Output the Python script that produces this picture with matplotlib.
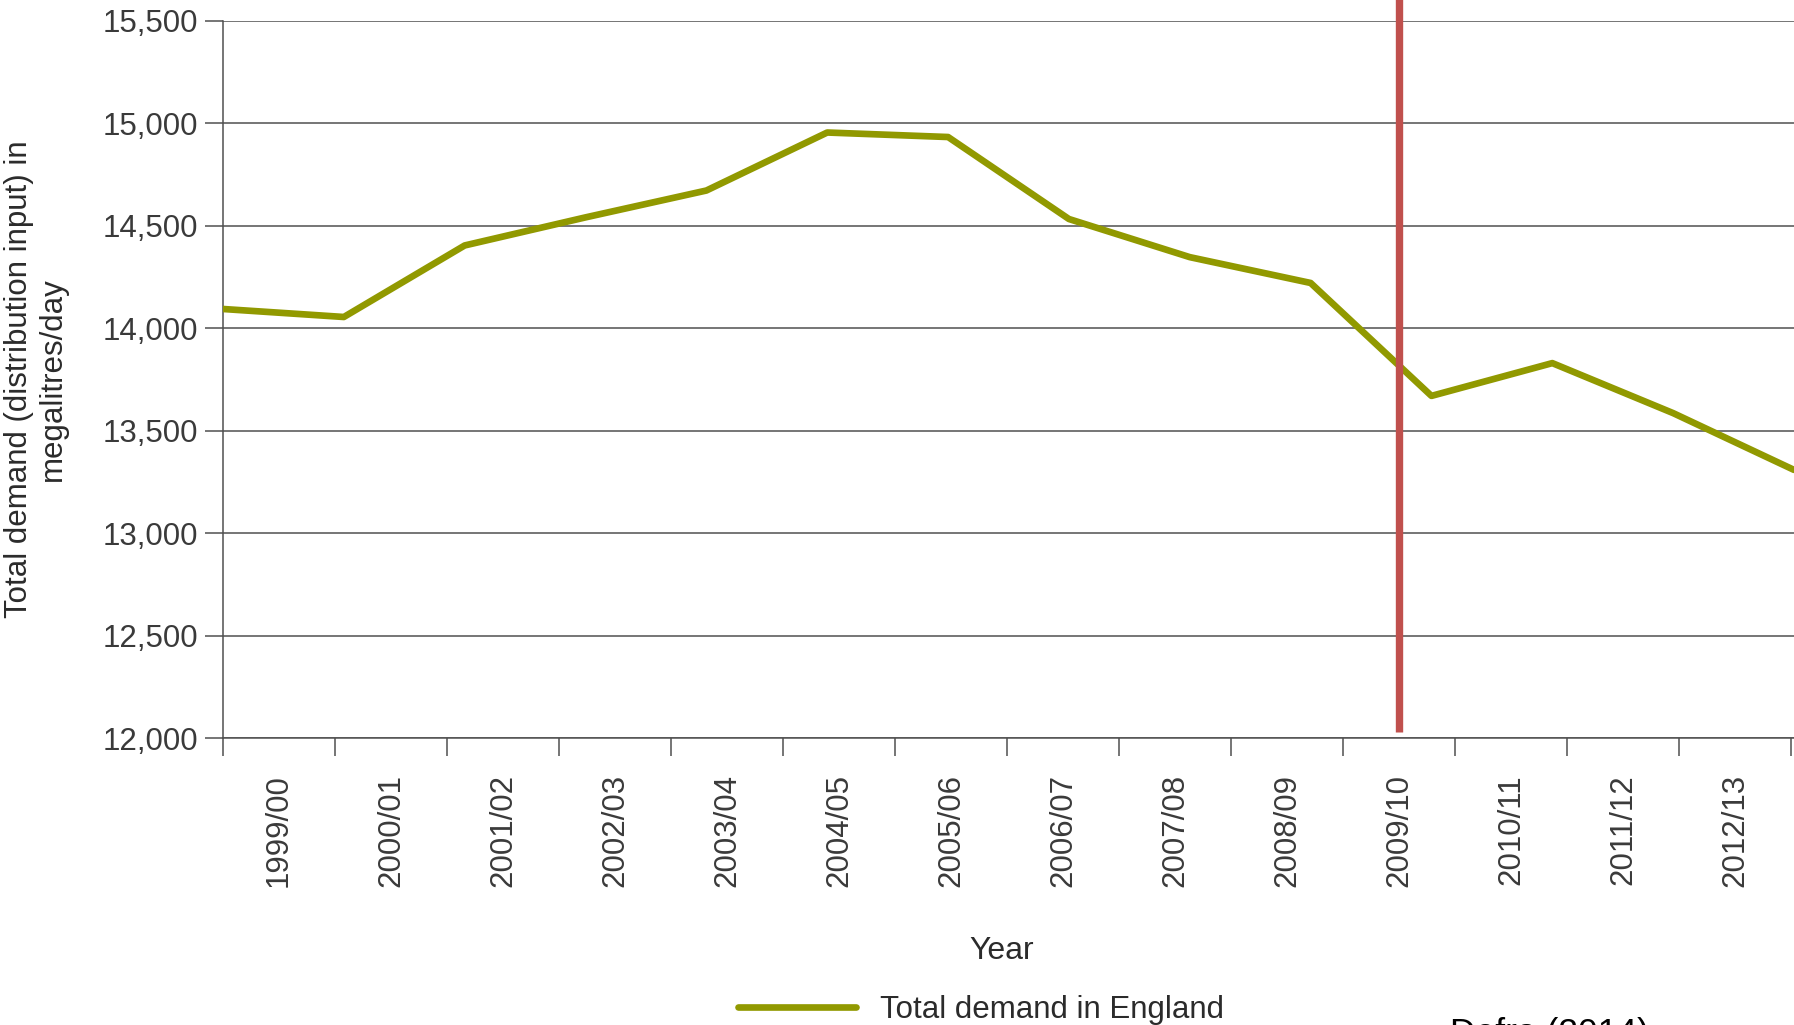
import numpy as np
import matplotlib
matplotlib.use("Agg")
import matplotlib.pyplot as plt
from matplotlib.ticker import FuncFormatter
from matplotlib.lines import Line2D

plt.rcParams['font.family'] = ['Liberation Sans', 'DejaVu Sans']

# data
years = ["1999/00", "2000/01", "2001/02", "2002/03", "2003/04", "2004/05", "2005/06",
         "2006/07", "2007/08", "2008/09", "2009/10", "2010/11", "2011/12", "2012/13"]
demand = [14093, 14054, 14403, 14540, 14671, 14954, 14932,
          14532, 14346, 14220, 13669, 13829, 13585, 13308]
marker_year = "2009/10"
marker_span = (12031, 15750)

olive = '#919900'
red = '#C0504D'
grid_col = '#4f4f4f'
tick_col = '#3a3a3a'
text_col = '#2b2b2b'

W, H = 1794, 1025
fig = plt.figure(figsize=(W / 100, H / 100), dpi=100)
ax = fig.add_axes([223 / W, (H - 738) / H, 1 - 223 / W, (738 - 20.6) / H])

# category axis with ticks between categories
n = len(years)
ax.set_xlim(-0.5, n - 0.5 + 3 / 112)
ax.set_xticks(np.arange(-0.5, n, 1))
ax.set_xticklabels([])
ax.set_xticks(np.arange(n), minor=True)
ax.set_xticklabels(years, minor=True, rotation=90, fontsize=22.5, color=tick_col)
ax.tick_params(axis='x', which='major', length=13, width=1.1, color=grid_col)
ax.tick_params(axis='x', which='minor', length=0, pad=26)

ax.set_ylim(12000, 15500)
ax.set_yticks(np.arange(12000, 15501, 500))
ax.yaxis.set_major_formatter(FuncFormatter(lambda v, p: f"{v:,.0f}"))
ax.tick_params(axis='y', length=13, width=1.1, color=grid_col, pad=5,
               labelsize=22.5, labelcolor=tick_col)

ax.grid(axis='y', color=grid_col, linewidth=1.1)
ax.set_axisbelow(True)
for s in ['top', 'right']:
    ax.spines[s].set_visible(False)
for s in ['left', 'bottom']:
    ax.spines[s].set_color(grid_col)
    ax.spines[s].set_linewidth(1.1)

ax.set_xlabel("Year", fontsize=23, color=text_col)
ax.xaxis.set_label_coords(0.4959, -0.276)

fig.text(36 / W, 1 - 379 / H, "Total demand (distribution input) in\nmegalitres/day",
         rotation=90, ha='center', va='center', multialignment='center',
         fontsize=22.5, color=text_col, linespacing=1.15)

# the demand line sits on its own x scale
ax2 = ax.twiny()
ax2.set_xlim(0, n - 1)
ax2.set_xticks([])
for s in ax2.spines.values():
    s.set_visible(False)
line, = ax2.plot(np.arange(n), demand, color=olive, linewidth=4.8,
                 solid_capstyle='round', zorder=2)

# marker for 2009/10
xm = years.index(marker_year)
ax2.plot([xm, xm], marker_span, color=red, linewidth=5.3,
         transform=ax.transData, clip_on=False, zorder=3, solid_capstyle='butt')

fig.legend(handles=[Line2D([0], [0], color=olive, linewidth=4.8, solid_capstyle='round')],
           labels=["Total demand in England"], loc='center left',
           bbox_to_anchor=(738 / W, 15 / H), frameon=False, borderpad=0,
           borderaxespad=0, handlelength=3.78, handletextpad=0.77,
           prop={'size': 22.5}, labelcolor=text_col)

fig.text(1450 / W, 8 / H, "Defra (2014)", ha='left', va='top',
         fontsize=25.5, color='black')

fig.savefig("out.png", dpi=100)
